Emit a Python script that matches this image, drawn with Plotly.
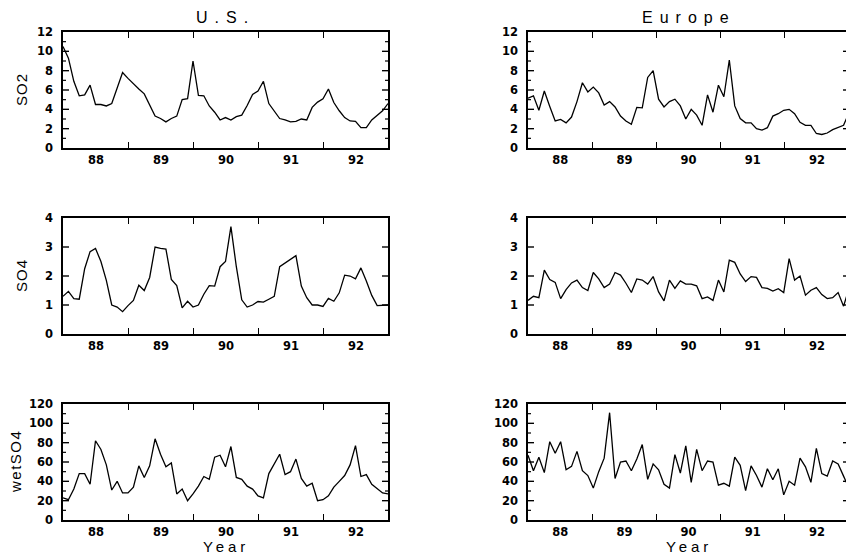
import numpy as np
import plotly.graph_objects as go

# The page body has an 8px margin, so the figure is drawn 8px smaller and
# every position below is (screen position - 8).
OFF = 8
W, H = 854 - OFF, 555 - OFF

# ---- data (monthly values, 1988-1992) ----
us_so2 = [10.5, 9.3, 6.9, 5.4, 5.5, 6.5, 4.5, 4.5, 4.35, 4.6, 6.2, 7.8, 7.2, 6.6, 6.1,
          5.6, 4.4, 3.3, 3.05, 2.7, 3.05, 3.3, 5.0, 5.1, 9.0, 5.45, 5.4, 4.35, 3.7, 2.9,
          3.15, 2.9, 3.25, 3.4, 4.4, 5.55, 5.9, 6.9, 4.6, 3.85, 3.05, 2.9, 2.7, 2.75, 3.0,
          2.9, 4.2, 4.75, 5.1, 6.1, 4.7, 3.85, 3.15, 2.8, 2.75, 2.1, 2.1, 2.9, 3.4, 3.85, 4.6]
eu_so2 = [5.15, 5.4, 3.9, 5.9, 4.3, 2.8, 2.95, 2.6, 3.2, 4.8, 6.75, 5.8, 6.3, 5.7, 4.45,
          4.8, 4.25, 3.3, 2.8, 2.45, 4.2, 4.15, 7.3, 8.0, 5.05, 4.25, 4.8, 5.05, 4.35, 3.0,
          4.0, 3.4, 2.35, 5.5, 3.7, 6.5, 5.3, 9.1, 4.35, 3.05, 2.6, 2.6, 2.0, 1.85, 2.1,
          3.3, 3.55, 3.9, 4.0, 3.55, 2.65, 2.35, 2.35, 1.5, 1.4, 1.55, 1.9, 2.1, 2.35, 3.65]
us_so4 = [1.3, 1.47, 1.22, 1.2, 2.25, 2.84, 2.95, 2.5, 1.85, 1.0, 0.93, 0.77, 0.98, 1.16,
          1.68, 1.5, 1.95, 3.0, 2.95, 2.93, 1.88, 1.67, 0.9, 1.13, 0.93, 1.0, 1.37, 1.67,
          1.65, 2.32, 2.5, 3.7, 2.32, 1.18, 0.93, 1.0, 1.12, 1.1, 1.2, 1.3, 2.32, 2.45, 2.57,
          2.7, 1.65, 1.25, 1.0, 1.0, 0.95, 1.23, 1.13, 1.42, 2.03, 2.0, 1.9, 2.28, 1.83,
          1.33, 0.98, 1.0, 1.0]
eu_so4 = [1.16, 1.3, 1.25, 2.2, 1.88, 1.78, 1.22, 1.53, 1.76, 1.86, 1.6, 1.5, 2.12, 1.9,
          1.6, 1.72, 2.12, 2.03, 1.75, 1.43, 1.9, 1.86, 1.72, 1.98, 1.45, 1.14, 1.86, 1.57,
          1.83, 1.72, 1.72, 1.66, 1.22, 1.28, 1.16, 1.86, 1.45, 2.55, 2.47, 2.07, 1.81, 1.98,
          1.95, 1.6, 1.57, 1.48, 1.56, 1.43, 2.6, 1.86, 2.0, 1.34, 1.51, 1.6, 1.36, 1.22,
          1.25, 1.43, 0.96, 1.57]
us_wet = [23, 21, 32, 48, 48, 37, 82, 73, 57, 31, 40, 28, 28, 34, 56, 44, 56, 84, 68, 55,
          59, 27, 32, 20, 27, 35, 45, 42, 65, 67, 55, 76, 44, 42, 35, 32, 25, 23, 48, 58,
          68, 47, 50, 63, 43, 35, 38, 20, 21, 25, 34, 40, 46, 57, 77, 45, 47, 37, 32, 28, 27]
eu_wet = [67, 51, 65, 49, 81, 69, 81, 52, 55.5, 71, 51, 46, 33, 50, 64, 111, 43, 60, 61, 51,
          63, 78, 42, 58, 52, 37, 33, 67.6, 48.6, 76.7, 39, 73, 51, 61, 60, 36, 38, 35, 65,
          56.5, 30.5, 56, 46, 34, 53, 41.6, 53, 26, 40, 36, 64, 55, 39, 74, 48, 45.4, 61, 58,
          45.4, 33]

year_labels = ["88", "89", "90", "91", "92"]
year_ticks = [1989, 1990, 1991, 1992, 1993]   # labels shifted back to mid-year
x_start, x_end = 1988.0, 1993.0

col_titles = ["U.S.", "Europe"]
row_names = ["SO2", "SO4", "wetSO4"]
y_ranges = [(0, 12), (0, 4), (0, 120)]
y_major = [2, 1, 20]
y_minor = [1, None, 10]

series = [[us_so2, eu_so2], [us_so4, eu_so4], [us_wet, eu_wet]]

# ---- pixel layout (screen coordinates) ----
col_px = [(63, 388), (528, 849)]
row_px = [(32, 148), (218, 334), (404, 520)]

FONT = "DejaVu Sans"
fig = go.Figure()
layout = {}
shapes = []


def tick_shape(xa, ya, v, side, length, width):
    xanchor = 0 if side == "left" else 1
    sign = 1 if side == "left" else -1
    return dict(type="line", xref=f"{xa} domain", yref=ya, xsizemode="pixel",
                xanchor=xanchor, x0=0, x1=sign * length, y0=v, y1=v,
                line=dict(color="black", width=width), layer="above")


k = 0
for r in range(3):
    for c in range(2):
        k += 1
        xa = "x" if k == 1 else f"x{k}"
        ya = "y" if k == 1 else f"y{k}"
        vals = series[r][c]
        xs = np.linspace(x_start, x_end, len(vals))
        fig.add_trace(go.Scatter(x=xs, y=vals, mode="lines", xaxis=xa, yaxis=ya,
                                 line=dict(color="black", width=1.3), showlegend=False,
                                 hoverinfo="skip"))
        x0, x1 = col_px[c]
        y0, y1 = row_px[r]
        x0, x1, y0, y1 = x0 - OFF, x1 - OFF, y0 - OFF, y1 - OFF
        xkey = "xaxis" if k == 1 else f"xaxis{k}"
        ykey = "yaxis" if k == 1 else f"yaxis{k}"
        half_year_px = int(round((x1 - x0) / (x_end - x_start) / 2))
        layout[xkey] = dict(
            domain=[x0 / W, x1 / W], anchor=ya, range=[x_start, x_end],
            tickmode="array", tickvals=year_ticks, ticktext=year_labels,
            ticks="inside", ticklen=6, tickwidth=1.4, tickcolor="black",
            showgrid=False, zeroline=False,
            showline=True, linecolor="black", linewidth=1.6, mirror="ticks",
            tickfont=dict(family=FONT, size=11.5, color="black", weight="bold"),
            ticklabelshift=-half_year_px,
        )
        lo, hi = y_ranges[r]
        layout[ykey] = dict(
            domain=[1 - y1 / H, 1 - y0 / H], anchor=xa, range=[lo, hi],
            tickmode="linear", tick0=0, dtick=y_major[r],
            ticks="outside", ticklen=6, tickcolor="rgba(0,0,0,0)",
            showgrid=False, zeroline=False,
            showline=True, linecolor="black", linewidth=1.6, mirror=True,
            tickfont=dict(family=FONT, size=11.5, color="black", weight="bold"),
        )
        # visible inward ticks on both vertical edges
        for v in np.arange(lo + y_major[r], hi, y_major[r]):
            shapes.append(tick_shape(xa, ya, v, "left", 6, 1.4))
            shapes.append(tick_shape(xa, ya, v, "right", 6, 1.4))
        if y_minor[r]:
            for v in np.arange(lo + y_minor[r], hi, 2 * y_minor[r]):
                shapes.append(tick_shape(xa, ya, v, "left", 3, 1.2))
                shapes.append(tick_shape(xa, ya, v, "right", 3, 1.2))

annotations = []
for c, t in enumerate(col_titles):
    x0, x1 = col_px[c]
    xc = ((x0 + x1) / 2 - OFF) / W
    annotations.append(dict(
        x=xc, y=1 - (17 - OFF) / H, xref="paper", yref="paper",
        text=f'<span style="letter-spacing:7px">{t}</span>', showarrow=False,
        font=dict(family="Liberation Sans", size=16, color="black"),
        xanchor="center", yanchor="middle"))
    annotations.append(dict(
        x=xc, y=1 - (546 - OFF) / H, xref="paper", yref="paper",
        text='<span style="letter-spacing:4px">Year</span>', showarrow=False,
        font=dict(family="Liberation Sans", size=15, color="black"),
        xanchor="center", yanchor="middle"))
ylab_x = [21, 22, 15]
ylab_sp = ["1px", "1px", "1.5px"]
for r, name in enumerate(row_names):
    y0, y1 = row_px[r]
    annotations.append(dict(
        x=(ylab_x[r] - OFF) / W, y=1 - ((y0 + y1) / 2 - OFF) / H,
        xref="paper", yref="paper",
        text=f'<span style="letter-spacing:{ylab_sp[r]}">{name}</span>', showarrow=False,
        textangle=-90, font=dict(family="Liberation Sans", size=15, color="black"),
        xanchor="center", yanchor="middle"))

fig.update_layout(
    width=W, height=H, margin=dict(l=0, r=0, t=0, b=0, autoexpand=False),
    paper_bgcolor="white", plot_bgcolor="white",
    annotations=annotations, shapes=shapes, **layout)

fig.write_html("out.html")
